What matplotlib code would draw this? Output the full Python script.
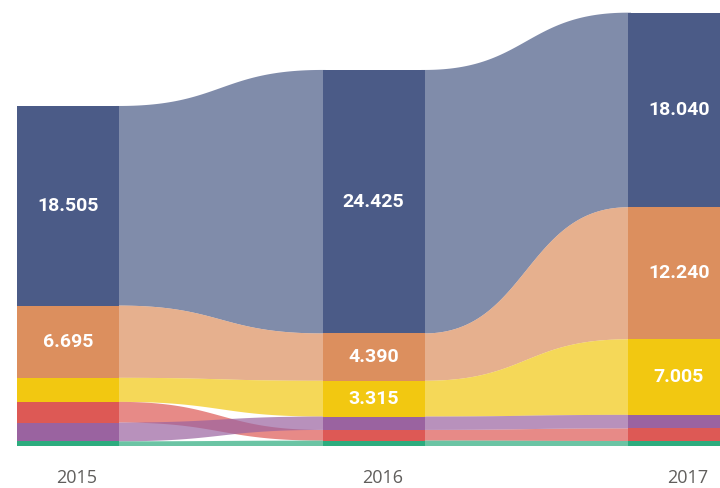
import numpy as np
import matplotlib
matplotlib.use("Agg")
import matplotlib.pyplot as plt

years = ["2015", "2016", "2017"]
series = ["A", "B", "C", "D", "E", "F"]
values_A = [18505, 24425, 18040]
values_B = [6695, 4390, 12240]
values_C = [2230, 3315, 7005]
values_D = [1915, 990, 1170]
values_E = [1740, 1240, 1250]
values_F = [435, 500, 465]
colors = ["#4B5B87", "#DC8F5E", "#F2C811", "#DD5955", "#9A63A0", "#2DAC7E"]

data = np.array([values_A, values_B, values_C, values_D, values_E, values_F], dtype=float)
n_series, n_years = data.shape

fig = plt.figure(figsize=(7.2, 4.88), dpi=100)
ax = fig.add_axes([0, 0, 1, 1])
px_per_x = 305.5
x0px = 68.0
ax.set_xlim(-x0px / px_per_x, (720 - x0px) / px_per_x)
vpp = 92.7
base = 446.0
ax.set_ylim(-(488 - base) * vpp, base * vpp)
ax.axis("off")

w = 102 / px_per_x
xs = np.arange(n_years)

# stacking: largest on top
bottoms = np.zeros_like(data)
for j in range(n_years):
    order = np.argsort(data[:, j])  # ascending -> bottom first
    cum = 0.0
    for k in order:
        bottoms[k, j] = cum
        cum += data[k, j]
tops = bottoms + data

# ribbons
t = np.linspace(0, 1, 200)
fx = 1.5 * t * (1 - t) + t ** 3
fy = 3 * t ** 2 - 2 * t ** 3
eps = 3 / px_per_x
for j in range(n_years - 1):
    xa = xs[j] + w / 2
    xb = xs[j + 1] - w / 2
    xc = np.concatenate([[xa - eps], xa + (xb - xa) * fx, [xb + eps]])
    fyy = np.concatenate([[0.0], fy, [1.0]])
    for k in range(n_series):
        yt = tops[k, j] + (tops[k, j + 1] - tops[k, j]) * fyy
        yb = bottoms[k, j] + (bottoms[k, j + 1] - bottoms[k, j]) * fyy
        ax.fill(np.concatenate([xc, xc[::-1]]), np.concatenate([yt, yb[::-1]]),
                color=colors[k], alpha=0.7, lw=0, zorder=2)

# bars
for j in range(n_years):
    for k in range(n_series):
        ax.bar(xs[j], data[k, j], bottom=bottoms[k, j], width=w,
               color=colors[k], edgecolor="none", zorder=3)
        if data[k, j] >= 3000:
            label = f"{int(data[k, j]):,}".replace(",", ".")
            ax.text(xs[j], bottoms[k, j] + data[k, j] / 2, label,
                    ha="center", va="center", color="white",
                    fontsize=14, fontweight="bold", family="Roboto", zorder=4)
    ax.text(xs[j] + 9 / px_per_x, -32 * vpp, years[j], ha="center", va="center",
            color="#605E5C", fontsize=13, family="Open Sans", zorder=4)

fig.savefig("out.png", dpi=100)
